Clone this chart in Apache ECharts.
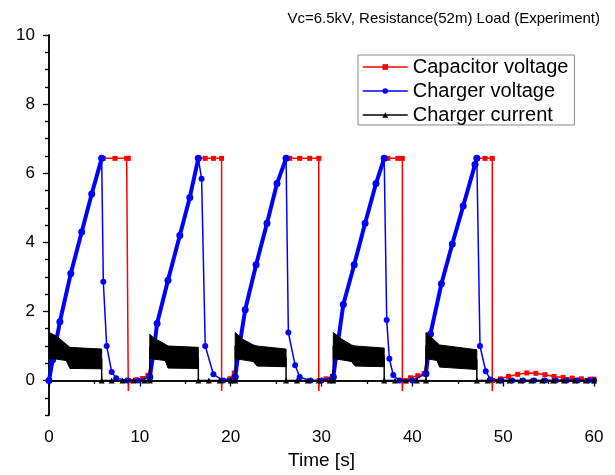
<!DOCTYPE html>
<html><head><meta charset="utf-8">
<script src="https://cdn.jsdelivr.net/npm/echarts@6/dist/echarts.min.js"></script>
<style>html,body{margin:0;padding:0;background:#fff}#c{width:615px;height:475px}</style>
</head><body><div id="c"></div>
<script>
// ---- data ----
const titleText = 'Vc=6.5kV, Resistance(52m) Load (Experiment)';
const xTickLabels = [0, 10, 20, 30, 40, 50, 60];
const yTickLabels = [0, 2, 4, 6, 8, 10];

// Charger voltage, charging ramps (one list per cycle) [time s, kV]
const chargerRamp = [
  [[0,0],[0.4,0.6],[1.2,1.7],[2.4,3.1],[3.6,4.3],[4.7,5.4],[5.8,6.43]],
  [[11.1,0.1],[11.5,0.8],[11.9,1.65],[13.1,2.9],[14.4,4.2],[15.5,5.3],[16.44,6.43]],
  [[20.5,0.1],[20.9,0.9],[21.6,2.05],[22.8,3.35],[24.0,4.55],[25.1,5.7],[26.1,6.43]],
  [[31.3,0.1],[31.7,0.9],[32.4,2.2],[33.6,3.35],[34.8,4.55],[36.0,5.7],[36.9,6.43]],
  [[41.5,0.2],[42.0,1.35],[43.2,2.8],[44.4,3.95],[45.6,5.05],[46.9,6.25],[47.1,6.43]]
];
// Charger voltage, discharge and idle (one list per cycle)
const chargerDecay = [
  [[5.8,6.43],[5.98,2.86],[6.35,1.0],[6.9,0.25],[7.4,0.07],[8.6,0],[9.8,0],[11.1,0.1]],
  [[16.44,6.43],[16.8,5.84],[17.2,1.0],[18.1,0.18],[19.2,0],[20.5,0.1]],
  [[26.1,6.43],[26.35,1.39],[27.1,0.44],[27.6,0.1],[28.8,0],[30.0,0],[31.3,0.1]],
  [[36.9,6.43],[37.18,1.75],[37.47,0.63],[37.9,0.16],[38.6,0],[40.0,0],[41.5,0.2]],
  [[47.1,6.43],[47.45,1.0],[48.08,0.27],[48.6,0.03],[49.8,0],[51.0,0],[52.2,0],[53.4,0],[54.6,0],[55.8,0],[57.0,0],[58.2,0],[59.4,0],[60,0]]
];
// Capacitor voltage, hold / dump / idle part of each cycle (ramp follows charger)
const capacitorHold = [
  [[5.98,6.43],[7.27,6.43],[8.55,6.43],[8.73,6.43],[8.73,-0.3],[8.78,0],[9.6,0.02],[10.3,0.06],[10.9,0.15]],
  [[17.2,6.43],[18.1,6.43],[19.0,6.43],[19.0,-0.3],[19.05,0],[19.9,0.05],[20.4,0.22]],
  [[26.5,6.43],[27.6,6.43],[28.7,6.43],[29.7,6.43],[29.7,-0.3],[29.75,0],[30.5,0.05],[31.2,0.12]],
  [[37.3,6.43],[38.4,6.43],[38.9,6.43],[38.9,-0.3],[38.95,0],[39.8,0.08],[40.6,0.14],[41.3,0.2]],
  [[48.0,6.43],[48.8,6.43],[48.8,-0.3],[48.85,0],[49.7,0.05],[50.6,0.12],[51.6,0.18],[52.6,0.22],[53.6,0.21],[54.6,0.17],[55.6,0.12],[56.6,0.09],[57.6,0.07],[58.6,0.05],[59.6,0.04],[60,0.04]]
];
// Charger current: envelope of the oscillating band while charging
const bandTime = [
  [0, 0.8, 1.9, 2.3, 5.8],
  [11.1, 11.5, 12.8, 13.1, 16.44],
  [20.5, 21.3, 22.5, 22.9, 26.1],
  [31.3, 32.2, 33.3, 33.7, 36.9],
  [41.5, 42.3, 42.7, 43.0, 47.1]
];
const bandHigh = [
  [1.39, 1.29, 1.05, 0.96, 0.91],
  [1.34, 1.24, 1.05, 1.0, 0.96],
  [1.39, 1.2, 1.03, 1.0, 0.91],
  [1.39, 1.2, 1.03, 1.0, 0.94],
  [1.39, 1.2, 1.1, 1.03, 0.89]
];
const bandLow = [
  [0.63, 0.62, 0.58, 0.35, 0.34],
  [0.63, 0.62, 0.58, 0.36, 0.35],
  [0.63, 0.6, 0.55, 0.42, 0.4],
  [0.63, 0.6, 0.55, 0.42, 0.4],
  [0.63, 0.6, 0.58, 0.39, 0.32]
];
// Charger current while idle (zero, sampled like the markers)
const currentIdle = [
  [6.9, 8.1, 9.3, 10.5],
  [17.6, 18.8, 20.0],
  [27.3, 28.5, 29.7, 30.9],
  [38.1, 39.3, 40.5],
  [48.3, 49.5, 50.7, 51.9, 53.1, 54.3, 55.5, 56.7, 57.9, 59.1, 60]
];
const currentIdleValue = 0;

// ---- build series ----
const FONT = 'Liberation Sans, Arial, sans-serif';
const capData = [];
chargerRamp.forEach((r, i) => {
  r.forEach(p => capData.push(p));
  capacitorHold[i].forEach(p => capData.push(p[1] < 0 ? { value: p, symbol: 'none' } : p));
});

const curData = [];
bandTime.forEach((bt, i) => {
  const n = bt.length - 1;
  if (i > 0) curData.push([bt[0], currentIdleValue]);
  curData.push({ value: [bt[0], (bandHigh[i][0] + bandLow[i][0]) / 2], symbol: 'none' });
  curData.push({ value: [bt[n], (bandHigh[i][n] + bandLow[i][n]) / 2], symbol: 'none' });
  curData.push([bt[n], currentIdleValue]);
  currentIdle[i].forEach(t => curData.push([t, currentIdleValue]));
});

const series = [];
series.push({
  name: 'Capacitor voltage', type: 'line', data: capData,
  symbol: 'rect', symbolSize: 5, showAllSymbol: true,
  lineStyle: { color: '#ff0000', width: 1.5 }, itemStyle: { color: '#ff0000' }, z: 2
});
chargerDecay.forEach(d => series.push({
  name: 'Charger voltage', type: 'line', data: d,
  symbol: 'circle', symbolSize: 6, showAllSymbol: true,
  lineStyle: { color: '#0000ff', width: 1.5 }, itemStyle: { color: '#0000ff' }, z: 3
}));
chargerRamp.forEach(r => series.push({
  name: 'Charger voltage', type: 'line', data: r,
  symbol: 'circle', symbolSize: 7, showAllSymbol: true,
  lineStyle: { color: '#0000ff', width: 4 }, itemStyle: { color: '#0000ff' }, z: 3
}));
// oscillating current band: polygon between the envelopes, placed via the axes
series.push({
  name: 'band', type: 'custom', silent: true, z: 4, clip: true,
  data: bandTime.map((bt, i) => [bt[0], bandHigh[i][0], i]),
  encode: { x: 0, y: 1 },
  renderItem: function (params, api) {
    const i = api.value(2);
    const bt = bandTime[i];
    const pts = [];
    bt.forEach((t, k) => pts.push(api.coord([t, bandHigh[i][k]])));
    for (let k = bt.length - 1; k >= 0; k--) pts.push(api.coord([bt[k], bandLow[i][k]]));
    return { type: 'polygon', shape: { points: pts }, style: { fill: '#000', stroke: '#000', lineWidth: 1 } };
  }
});
series.push({
  name: 'Charger current', type: 'line', data: curData,
  symbol: 'triangle', symbolSize: 6, showAllSymbol: true,
  lineStyle: { color: '#000', width: 1.5 }, itemStyle: { color: '#000' }, z: 5
});

const minorY = [];
for (let k = 0; k <= 22; k++) { const v = -1 + k * 0.5; if (!yTickLabels.includes(v)) minorY.push(v); }

const axisLine = { show: true, lineStyle: { color: '#000', width: 1.5 } };
const chart = echarts.init(document.getElementById('c'), null, { renderer: 'canvas' });
chart.setOption({
  animation: false,
  backgroundColor: '#fff',
  title: { text: titleText, right: 10, top: 6,
    textStyle: { fontFamily: FONT, fontSize: 15, fontWeight: 'normal', color: '#000' } },
  legend: {
    data: ['Capacitor voltage', 'Charger voltage', 'Charger current'],
    orient: 'vertical', left: 358, top: 55, selectedMode: false,
    itemWidth: 45, itemHeight: 7, itemGap: 4,
    padding: [2, 6, 0, 4],
    borderColor: '#888', borderWidth: 1, backgroundColor: '#fff',
    lineStyle: { width: 1.5 },
    textStyle: { fontFamily: FONT, fontSize: 20, color: '#000', lineHeight: 20 }
  },
  grid: { left: 49, right: 21, top: 35, bottom: 54, containLabel: false },
  xAxis: [{
    type: 'value', position: 'bottom', min: 0, max: 60, interval: 10,
    name: 'Time [s]', nameLocation: 'middle', nameGap: 33,
    nameTextStyle: { fontFamily: FONT, fontSize: 19, color: '#000' },
    axisLine, axisTick: { show: true, inside: false, length: 6, lineStyle: { color: '#000', width: 1.2 } },
    minorTick: { show: true, splitNumber: 2, length: 3.5, lineStyle: { color: '#000', width: 1.2 } },
    axisLabel: { fontFamily: FONT, fontSize: 17, color: '#000', margin: 14 },
    splitLine: { show: false }
  }, {
    type: 'value', position: 'top', min: 0, max: 60, interval: 10,
    axisLine, axisTick: { show: true, inside: true, length: 5, lineStyle: { color: '#000', width: 1.2 } },
    minorTick: { show: true, splitNumber: 2, length: 3, lineStyle: { color: '#000', width: 1.2 } },
    axisLabel: { show: false }, splitLine: { show: false }
  }],
  yAxis: [{
    type: 'value', position: 'left', min: -1, max: 10, interval: 1,
    axisLine,
    axisTick: { show: true, inside: false, length: 6, customValues: yTickLabels, lineStyle: { color: '#000', width: 1.2 } },
    axisLabel: { fontFamily: FONT, fontSize: 17, color: '#000', margin: 14, customValues: yTickLabels },
    splitLine: { show: false }
  }, {
    type: 'value', position: 'right', min: -1, max: 10, interval: 0.5,
    axisLine, axisTick: { show: true, inside: true, length: 4, lineStyle: { color: '#000', width: 1.2 } },
    axisLabel: { show: false }, splitLine: { show: false }
  }, {
    type: 'value', position: 'left', min: -1, max: 10, interval: 1,
    axisLine: { show: false },
    axisTick: { show: true, inside: false, length: 3.5, customValues: minorY, lineStyle: { color: '#000', width: 1.2 } },
    axisLabel: { show: false }, splitLine: { show: false }
  }],
  series: series
});
</script>
</body></html>
